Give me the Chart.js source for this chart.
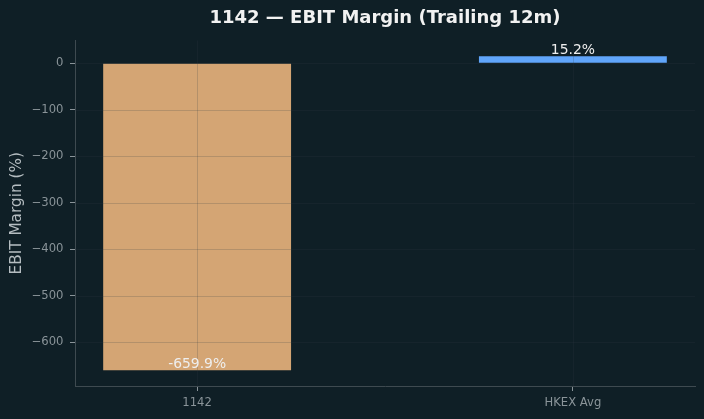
<!DOCTYPE html>
<html><head><meta charset="utf-8">
<script src="https://cdn.jsdelivr.net/npm/chart.js@4.4.1/dist/chart.umd.min.js"></script>
<style>html,body{margin:0;padding:0;background:#0f1f26;}#wrap{width:704px;height:419px;}</style>
</head><body><div id="wrap"><canvas id="c" width="704" height="419"></canvas></div>
<script>
const categories = ['1142', 'HKEX Avg'];
const values = [-659.9, 15.2];
const barColors = ['#d4a574', '#60a5fa'];
const yTicks = [0, -100, -200, -300, -400, -500, -600];
const chartTitle = '1142 — EBIT Margin (Trailing 12m)';
const yTitle = 'EBIT Margin (%)';

const FONT = "'DejaVu Sans', sans-serif";
const BG = '#0f1f26';

const bgPlugin = {
  id: 'bg',
  beforeDraw(chart) {
    const ctx = chart.ctx;
    ctx.save();
    ctx.fillStyle = BG;
    ctx.fillRect(0, 0, chart.width, chart.height);
    ctx.restore();
  }
};

const overlayPlugin = {
  id: 'overlay',
  afterDatasetsDraw(chart) {
    const ctx = chart.ctx;
    const a = chart.chartArea;
    const xs = chart.scales.x, ys = chart.scales.y;
    ctx.save();
    ctx.strokeStyle = 'rgba(50,62,68,0.2)';
    ctx.lineWidth = 1;
    ys.ticks.forEach(t => {
      const y = Math.round(ys.getPixelForValue(t.value)) + 0.5;
      ctx.beginPath(); ctx.moveTo(a.left, y); ctx.lineTo(a.right, y); ctx.stroke();
    });
    xs.ticks.forEach(t => {
      const x = Math.round(xs.getPixelForValue(t.value)) + 0.5;
      ctx.beginPath(); ctx.moveTo(x, a.top); ctx.lineTo(x, a.bottom); ctx.stroke();
    });
    // value labels
    ctx.fillStyle = '#eeeeee';
    ctx.font = '13.9px ' + FONT;
    ctx.textAlign = 'center';
    ctx.textBaseline = 'bottom';
    values.forEach((v, i) => {
      const x = xs.getPixelForValue(i);
      const y = ys.getPixelForValue(v);
      ctx.fillText(v.toFixed(1) + '%', x, y + 1);
    });
    // title
    ctx.fillStyle = '#f2f2f2';
    ctx.font = 'bold 18px ' + FONT;
    ctx.textBaseline = 'middle';
    ctx.fillText(chartTitle, (a.left + a.right) / 2, 18.5);
    ctx.restore();
  }
};

new Chart(document.getElementById('c'), {
  type: 'bar',
  data: {
    datasets: [{
      data: values.map((v, i) => ({ x: i, y: v })),
      backgroundColor: barColors,
      borderWidth: 0,
      barPercentage: 0.5,
      categoryPercentage: 1
    }]
  },
  options: {
    responsive: false,
    animation: false,
    layout: { padding: { top: 40.5, right: 9, bottom: 0, left: 0 } },
    plugins: { legend: { display: false }, tooltip: { enabled: false }, title: { display: false } },
    scales: {
      x: {
        type: 'linear',
        offset: false,
        min: -0.325,
        max: 1.325,
        afterBuildTicks(s) { s.ticks = categories.map((c, i) => ({ value: i })); },
        afterFit(s) { s.height = 33; },
        grid: { offset: false, drawOnChartArea: false, drawTicks: true, tickLength: 5, tickColor: '#8a9499' },
        border: { color: '#3e4a50', width: 1 },
        ticks: {
          color: '#8a9499',
          font: { family: FONT, size: 11.6 },
          padding: 5.5,
          maxRotation: 0,
          autoSkip: false,
          callback: (v) => categories[v]
        }
      },
      y: {
        type: 'linear',
        min: -693.7,
        max: 48.9,
        afterBuildTicks(s) { s.ticks = yTicks.map(v => ({ value: v })); },
        afterFit(s) { s.width = 75; },
        grid: { drawOnChartArea: false, drawTicks: true, tickLength: 5, tickColor: '#8a9499' },
        border: { color: '#3e4a50', width: 1 },
        title: {
          display: true,
          text: yTitle,
          color: '#b5bdc1',
          font: { family: FONT, size: 15.3 },
          padding: { top: 7.5, bottom: 0 }
        },
        ticks: {
          color: '#8a9499',
          font: { family: FONT, size: 11.6 },
          padding: 6.5,
          autoSkip: false,
          callback: (v) => (v < 0 ? '\u2212' + Math.abs(v) : String(v))
        }
      }
    }
  },
  plugins: [bgPlugin, overlayPlugin]
});
</script>
</body></html>
